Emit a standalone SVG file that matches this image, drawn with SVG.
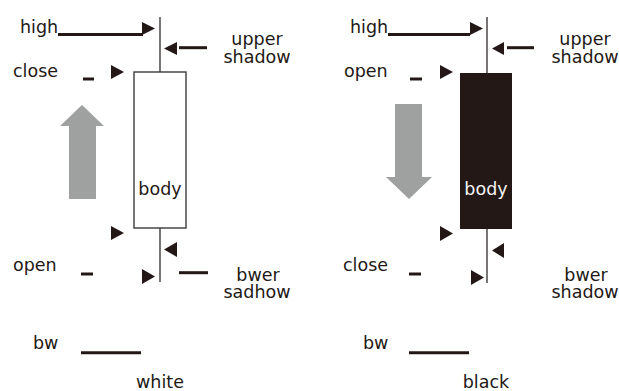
<svg xmlns="http://www.w3.org/2000/svg" width="619" height="391" viewBox="0 0 619 391">
<style>
text{font-family:"DejaVu Sans","Liberation Sans",sans-serif;font-size:17.5px;fill:#231815}
.c{text-anchor:middle}
.bar{stroke:#231815;stroke-width:3;fill:none}
.wick{stroke:#3e3a39;stroke-width:1.4;fill:none}
.tri{fill:#231815}
.big{fill:#9fa0a0}
</style>
<rect width="619" height="391" fill="#fff"/>
<g id="white-candle">
<line class="wick" x1="160" y1="17" x2="160" y2="72"/>
<line class="wick" x1="160" y1="228" x2="160" y2="282"/>
<rect x="134" y="72" width="52" height="156" fill="#fff" stroke="#3e3a39" stroke-width="1.4"/>
<text x="160" y="195" class="c">body</text>
</g>
<g id="white-labels">
<text x="20" y="33">high</text>
<text x="13" y="77">close</text>
<text x="13" y="271">open</text>
<text x="33" y="349">bw</text>
<text class="c"><tspan x="257" y="45">upper</tspan><tspan x="257" y="63">shadow</tspan></text>
<text class="c"><tspan x="258" y="281">bwer</tspan><tspan x="257" y="298">sadhow</tspan></text>
<text x="160" y="388" class="c">white</text>
</g>
<g id="white-arrow">
<polygon class="big" points="82,105 104,126 96,126 96,199 69,199 69,126 60,126"/>
</g>
<g id="black-candle">
<line class="wick" x1="487" y1="17" x2="487" y2="73"/>
<line class="wick" x1="487" y1="229" x2="487" y2="283"/>
<rect x="460" y="73" width="52" height="156" fill="#231815"/>
<text x="486" y="195" class="c" style="fill:#f5f5f5">body</text>
</g>
<g id="black-labels">
<text x="350" y="33">high</text>
<text x="344" y="77">open</text>
<text x="343" y="271">close</text>
<text x="363" y="349">bw</text>
<text class="c"><tspan x="585" y="45">upper</tspan><tspan x="585" y="63">shadow</tspan></text>
<text class="c"><tspan x="586" y="281">bwer</tspan><tspan x="585" y="298">shadow</tspan></text>
<text x="486" y="388" class="c">black</text>
</g>
<g id="black-arrow">
<polygon class="big" points="395,104 422,104 422,177 432,177 409,199 386,177 395,177"/>
</g>
<g id="connectors">
<line class="bar" x1="58" y1="34.5" x2="143" y2="34.5"/>
<polygon class="tri" points="142,22 155,28.5 142,35"/>
<line class="bar" x1="179" y1="47.7" x2="207" y2="47.7"/>
<polygon class="tri" points="177,42 164,48.5 177,55"/>
<line class="bar" x1="83" y1="79" x2="94" y2="79"/>
<polygon class="tri" points="111,65 124,72 111,79"/>
<polygon class="tri" points="111,226 124,233 111,240"/>
<polygon class="tri" points="177,242 164,249.5 177,257"/>
<line class="bar" x1="81" y1="274" x2="93" y2="274"/>
<polygon class="tri" points="142,269 155,276.5 142,284"/>
<line class="bar" x1="179" y1="272.7" x2="208" y2="272.7"/>
<line class="bar" x1="81" y1="352.7" x2="141" y2="352.7"/>
<line class="bar" x1="388" y1="34.5" x2="470" y2="34.5"/>
<polygon class="tri" points="470,22 483,28.5 470,35"/>
<line class="bar" x1="507" y1="47.7" x2="534" y2="47.7"/>
<polygon class="tri" points="504,42 492,48.5 504,55"/>
<line class="bar" x1="410" y1="79" x2="422" y2="79"/>
<polygon class="tri" points="440,65 453,72 440,79"/>
<polygon class="tri" points="440,226 453,233.5 440,241"/>
<polygon class="tri" points="504,243 492,250.5 504,258"/>
<line class="bar" x1="409" y1="274" x2="421" y2="274"/>
<polygon class="tri" points="471,270 484,277.5 471,285"/>
<line class="bar" x1="409" y1="352.7" x2="469" y2="352.7"/>
</g>
</svg>
